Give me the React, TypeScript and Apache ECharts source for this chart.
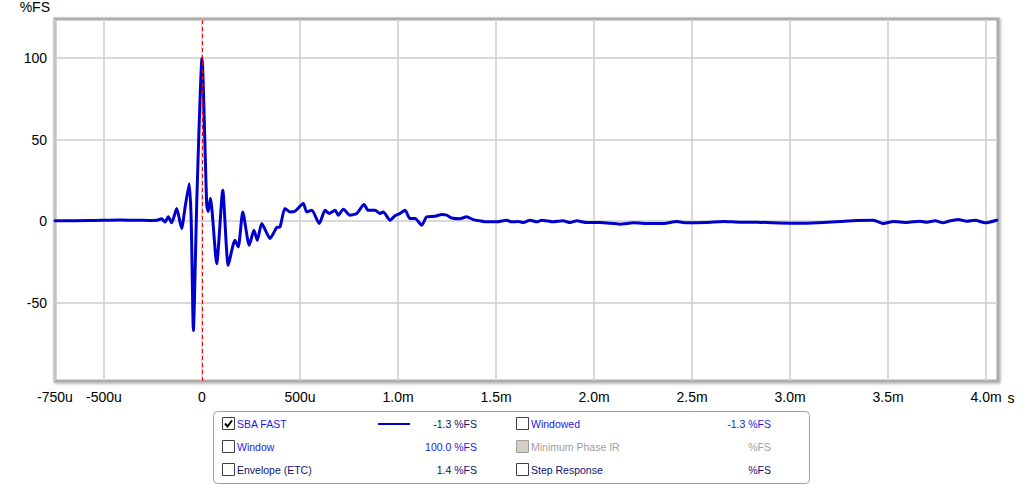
import React, { useEffect, useRef } from "react";
import * as echarts from "echarts";

// Impulse response: time in milliseconds, amplitude in %FS
const timeMs = [
  -0.75, -0.571, -0.418, -0.316, -0.265, -0.23, -0.206, -0.189, -0.172, -0.155,
  -0.129, -0.104, -0.087, -0.065, -0.055, -0.044, -0.026, 0.0, 0.024, 0.032,
  0.043, 0.075, 0.106, 0.134, 0.168, 0.185, 0.208, 0.241, 0.265, 0.282,
  0.305, 0.347, 0.381, 0.398, 0.423, 0.449, 0.474, 0.517, 0.534, 0.56,
  0.598, 0.628, 0.649, 0.679, 0.695, 0.721, 0.755, 0.789, 0.827, 0.848,
  0.883, 0.908, 0.925, 0.959, 0.985, 1.01, 1.036, 1.061, 1.087, 1.121,
  1.146, 1.189, 1.223, 1.248, 1.274, 1.316, 1.35, 1.384, 1.418, 1.453,
  1.504, 1.555, 1.58, 1.614, 1.639, 1.673, 1.708, 1.733, 1.791, 1.842,
  1.878, 1.912, 1.963, 2.031, 2.133, 2.201, 2.286, 2.354, 2.422, 2.473,
  2.575, 2.66, 2.745, 2.83, 2.915, 3.0, 3.085, 3.17, 3.255, 3.34,
  3.425, 3.476, 3.527, 3.595, 3.663, 3.697, 3.74, 3.782, 3.808, 3.859,
  3.901, 3.944, 3.995, 4.055,
];
const amplitude = [
  0.3, 0.4, 0.8, 0.6, 0.5, 0.6, 1.5, -0.5, 2.7, -1.0,
  7.8, -4.5, 8, 23, 0, -67, 15, 100, 10, 6,
  14, -26, 19, -27, -11.7, -15.7, 5.7, -14.7, -5.5, -11.7,
  -1.4, -10.6, -3.9, -3.5, 7.8, 5.7, 6.1, 10.8, 5.7, 6.7,
  -1.4, 6.7, 4.7, 6.7, 3.7, 7.4, 3.7, 4.7, 10.2, 6.7,
  6.7, 4.7, 5.7, 0.6, 3.3, 4.7, 6.7, 1.6, 1.6, -2.5,
  2.7, 3.0, 4.1, 3.7, 2.0, 1.5, 2.7, 1.0, 0.2, -0.4,
  -0.4, 0.6, -0.4, -0.2, -0.8, 0.6, -0.4, 0.6, -0.4, 0.2,
  -0.8, 0.2, -0.8, -0.8, -1.8, -1.0, -1.4, -1.4, -0.2, -1.0,
  -0.8, -0.2, -0.6, -0.6, -1.0, -1.2, -1.2, -0.8, -0.2, 0.4,
  0.6, -1.4, -0.2, -0.8, 0.0, -0.6, 0.2, -1.0, 0.0, 1.0,
  0.0, 0.6, -1.0, 0.6,
];

const xTickValues = [-0.75, -0.5, 0, 0.5, 1, 1.5, 2, 2.5, 3, 3.5, 4];
const xTickLabels = ["-750u", "-500u", "0", "500u", "1.0m", "1.5m", "2.0m", "2.5m", "3.0m", "3.5m", "4.0m"];
const yTickValues = [-50, 0, 50, 100];

const legendNames = ["SBA FAST", "Window", "Envelope (ETC)", "Windowed", "Minimum Phase IR", "Step Response"];
const legendValues = ["-1.3 %FS", "100.0 %FS", "1.4 %FS", "-1.3 %FS", "%FS", "%FS"];
const legendChecked = [true, false, false, false, false, false];
const legendEnabled = [true, true, true, true, false, true];

const FONT = "'Liberation Sans', Arial, sans-serif";
const BLUE = "#0000cc";

export default function App() {
  const ref = useRef<HTMLDivElement>(null);

  useEffect(() => {
    if (!ref.current) return;
    const chart = echarts.init(ref.current, undefined, { renderer: "svg" });

    const nameColors = ["#1c1ce8", "#1c1ce8", "#101070", "#1c1ce8", "#a0a0a0", "#101070"];
    const valueColors = ["#101070", "#1c1ce8", "#101070", "#1c1ce8", "#a0a0a0", "#101070"];
    const rowsY = [424, 447, 470];
    const colBox = [222, 516];
    const colValRight = [477, 771];

    const graphics: any[] = [
      {
        type: "rect",
        shape: { x: 213.5, y: 411.5, width: 596, height: 72, r: 4 },
        style: { fill: "#ffffff", stroke: "#a0a0a0", lineWidth: 1 },
      },
    ];
    legendNames.forEach((name, i) => {
      const col = Math.floor(i / 3);
      const row = i % 3;
      const cy = rowsY[row];
      const bx = colBox[col];
      graphics.push({
        type: "rect",
        shape: { x: bx + 0.5, y: cy - 6.5, width: 12, height: 12 },
        style: {
          fill: legendEnabled[i] ? "#ffffff" : "#d4d0c8",
          stroke: legendEnabled[i] ? "#404040" : "#a0a0a0",
          lineWidth: 1,
        },
      });
      if (legendChecked[i]) {
        graphics.push({
          type: "polyline",
          shape: { points: [[bx + 3, cy - 0.5], [bx + 5.5, cy + 2.5], [bx + 10, cy - 3.5]] },
          style: { stroke: "#000000", lineWidth: 2, fill: "none" },
        });
      }
      graphics.push({
        type: "text",
        x: bx + 15,
        y: cy,
        style: {
          text: name,
          font: `10.5px ${FONT}`,
          fill: nameColors[i],
          textVerticalAlign: "middle",
          textAlign: "left",
        },
      });
      graphics.push({
        type: "text",
        x: colValRight[col],
        y: cy,
        style: {
          text: legendValues[i],
          font: `10.5px ${FONT}`,
          fill: valueColors[i],
          textVerticalAlign: "middle",
          textAlign: "right",
        },
      });
    });
    graphics.push({
      type: "line",
      shape: { x1: 378, y1: 424, x2: 410, y2: 424 },
      style: { stroke: BLUE, lineWidth: 2 },
    });

    chart.setOption({
      animation: false,
      backgroundColor: "#ffffff",
      grid: {
        left: 55,
        right: 26,
        top: 19,
        bottom: 104,
        show: true,
        backgroundColor: "#ffffff",
        borderColor: "#acacac",
        borderWidth: 3,
        shadowColor: "rgba(0,0,0,0.35)",
        shadowBlur: 3,
        shadowOffsetX: 1,
        shadowOffsetY: 1,
      },
      xAxis: {
        type: "value",
        min: -0.75,
        max: 4.061,
        name: "s",
        nameLocation: "end",
        nameGap: 8,
        nameTextStyle: {
          color: "#000",
          fontFamily: FONT,
          fontSize: 14,
          verticalAlign: "top",
          padding: [10, 0, 0, 0],
        },
        axisLine: { show: false, onZero: false },
        axisTick: { show: false, customValues: xTickValues },
        axisLabel: {
          customValues: xTickValues,
          margin: 9,
          color: "#000",
          fontFamily: FONT,
          fontSize: 14,
          formatter: (v: number) => {
            const idx = xTickValues.findIndex((t) => Math.abs(t - v) < 1e-6);
            return idx >= 0 ? xTickLabels[idx] : "";
          },
        },
        splitLine: { show: true, lineStyle: { color: "#cccccc", width: 1.5 } },
      },
      yAxis: {
        type: "value",
        min: -98,
        max: 124,
        name: "%FS",
        nameLocation: "end",
        nameGap: 5,
        nameTextStyle: {
          color: "#000",
          fontFamily: FONT,
          fontSize: 14,
          align: "right",
          padding: [0, 5, 0, 0],
        },
        axisLine: { show: false, onZero: false },
        axisTick: { show: false, customValues: yTickValues },
        axisLabel: {
          customValues: yTickValues,
          margin: 8,
          color: "#000",
          fontFamily: FONT,
          fontSize: 14,
        },
        splitLine: { show: true, lineStyle: { color: "#cccccc", width: 1.5 } },
      },
      series: [
        {
          type: "line",
          data: timeMs.map((t, i) => [t, amplitude[i]]),
          showSymbol: false,
          smooth: 0.2,
          lineStyle: { color: BLUE, width: 3, join: "round", cap: "round" },
          z: 3,
          markLine: {
            silent: true,
            symbol: "none",
            label: { show: false },
            lineStyle: { color: "#ff0000", type: [4, 3], width: 1 },
            data: [{ xAxis: 0 }],
            z: 5,
          },
        },
      ],
      graphic: graphics,
    });

    return () => chart.dispose();
  }, []);

  return (
    <div
      ref={ref}
      style={{ position: "fixed", left: 0, top: 0, width: 1024, height: 485 }}
    />
  );
}
